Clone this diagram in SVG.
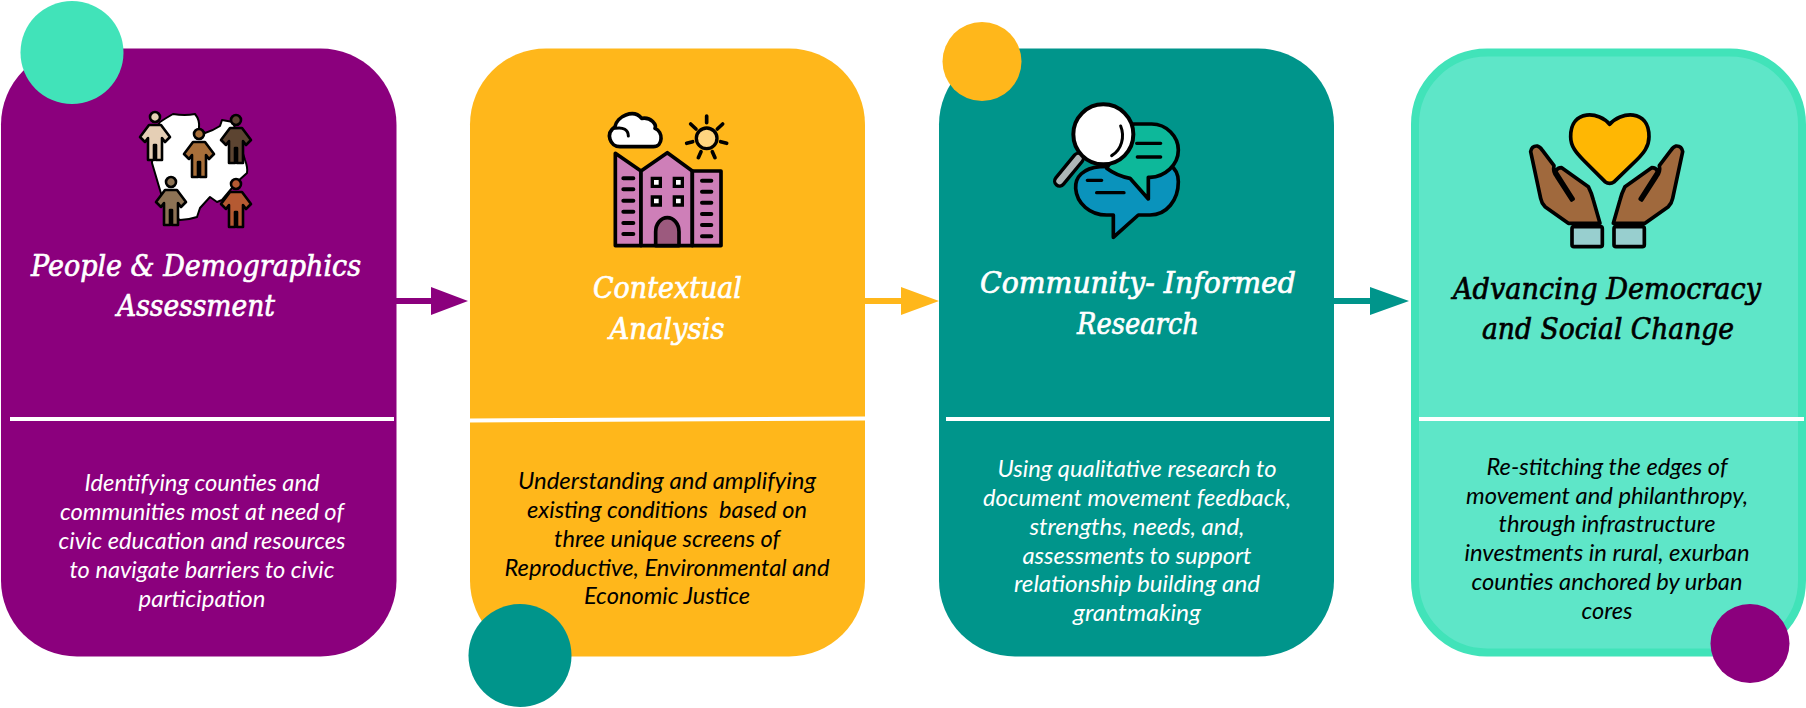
<svg xmlns="http://www.w3.org/2000/svg" width="1806" height="708" viewBox="0 0 1806 708">
<style>
.h{font-family:"DejaVu Serif","Liberation Serif",serif;font-style:italic;font-size:29px;text-anchor:middle;stroke-width:.7px}
.b{font-family:Lato,"Open Sans","Liberation Sans",sans-serif;font-style:italic;font-size:24px;text-anchor:middle;transform:translate(0,1.5px)}
.w{fill:#fff}.k{fill:#000}
.h.w{stroke:#fff}.h.k{stroke:#000}
.div{stroke:#fff;stroke-width:4;fill:none}
.o{stroke:#000;stroke-linejoin:round;stroke-linecap:round}
.l{fill:none;stroke:#000;stroke-linecap:round;stroke-linejoin:round}
</style>
<defs>
<g id="person">
<path class="o" stroke-width="2.6" d="M-6,8H6L15,20L10,25L7,21V43H1V28H-1V43H-7V21L-10,25L-15,20Z"/>
<circle class="o" stroke-width="2.6" r="5"/>
</g>
<g id="hand">
<path class="o" fill="#A0693D" stroke-width="11" d="M392 455Q395 437 412 438Q420 440 428 452L462 497Q458 515 470 530L515 600L470 530Q460 505 485 503L565 560Q575 580 580 600L600 670H505L435 620Q425 610 422 595Z"/>
<path class="l" stroke-width="10" d="M468 515L520 597"/>
</g>
</defs>
<g id="connectors">
<path d="M396 298H431V287L468 301L431 315V304H396Z" fill="#8B007D"/>
<path d="M865 298H901V287L939 301L901 315V304H865Z" fill="#FFB71B"/>
<path d="M1334 298H1370V287L1409 301L1370 315V304H1334Z" fill="#00958B"/>
</g>
<g id="node1">
<rect x="1" y="48.5" width="395.5" height="608" rx="76" fill="#8B007D"/>
<g id="icon1">
<path class="o" fill="#fff" stroke-width="2" d="M160 122Q166 118 173 114Q185 116 195 114Q200 120 199 128L205 133Q214 130 220 126L222 120L233 122L245 160Q248 168 247 173L237 182L222 200L217 202L210 197L200 208L197 217Q188 220 180 220L167 213L160 190L152 163L153 133Z"/>
<use href="#person" x="155" y="117" fill="#E5CFB5"/>
<use href="#person" x="199" y="134" fill="#A86F3A"/>
<use href="#person" x="236" y="120" fill="#5C4431"/>
<use href="#person" x="171" y="182" fill="#8D7355"/>
<use href="#person" x="236" y="184" fill="#B55A32"/>
</g>
<text class="h w" x="196" y="276" textLength="330" lengthAdjust="spacingAndGlyphs">People &amp; Demographics</text>
<text class="h w" x="196" y="316" textLength="158" lengthAdjust="spacingAndGlyphs">Assessment</text>
<path class="div" d="M10 419H394"/>
<text class="b w" x="202" y="489" textLength="235" lengthAdjust="spacingAndGlyphs">Identifying counties and</text>
<text class="b w" x="202" y="518" textLength="284" lengthAdjust="spacingAndGlyphs">communities most at need of</text>
<text class="b w" x="202" y="547" textLength="287" lengthAdjust="spacingAndGlyphs">civic education and resources</text>
<text class="b w" x="202" y="576" textLength="265" lengthAdjust="spacingAndGlyphs">to navigate barriers to civic</text>
<text class="b w" x="202" y="605" textLength="127" lengthAdjust="spacingAndGlyphs">participation</text>
<circle cx="72" cy="52.5" r="51.5" fill="#41E3B9"/>
</g>
<g id="node2">
<rect x="470" y="48.5" width="395" height="608" rx="76" fill="#FFB71B"/>
<g id="icon2" transform="translate(460 0) scale(.33333)">
<path class="o" fill="#CE7FB8" stroke-width="11" d="M466 460L543 513V737H466Z"/>
<path class="o" fill="#CE7FB8" stroke-width="11" d="M543 513L622 458L697 513V737H543Z"/>
<path class="o" fill="#CE7FB8" stroke-width="11" d="M697 513H783V737H697Z"/>
<path class="l" stroke-width="12" d="M490 535H520M490 568H520M490 602H520M490 635H520M490 669H520M490 702H520M726 542H754M726 575H754M726 608H754M726 642H754M726 675H754M726 709H754"/>
<path fill="#000" d="M572 530h34v34h-34zM638 530h34v34h-34zM572 586h34v34h-34zM638 586h34v34h-34z"/>
<path fill="#fff" d="M582 540h14v14h-14zM648 540h14v14h-14zM582 596h14v14h-14zM648 596h14v14h-14z"/>
<path class="o" fill="#9C5A7E" stroke-width="11" d="M587 737V695A35 42 0 0 1 657 695V737Z"/>
<path class="o" fill="#fff" stroke-width="11" d="M480 440C450 440 435 400 465 380C470 350 520 325 545 355C575 350 590 375 585 385C610 395 610 440 580 440Z"/>
<path class="l" stroke-width="9" d="M465 385C490 380 505 390 505 408"/>
<circle class="o" cx="740" cy="415" r="31" fill="#FFD580" stroke-width="10"/>
<path class="l" stroke-width="11" d="M740 348V368M692 372L708 387M788 372L772 387M680 430L698 425M800 430L782 425M715 473L723 455M765 473L757 455"/>
</g>
<text class="h w" x="667.5" y="298" textLength="149" lengthAdjust="spacingAndGlyphs">Contextual</text>
<text class="h w" x="667" y="339" textLength="115" lengthAdjust="spacingAndGlyphs">Analysis</text>
<path class="div" d="M470 420.5L865 418.5"/>
<text class="b k" x="667" y="487" textLength="298" lengthAdjust="spacingAndGlyphs">Understanding and amplifying</text>
<text class="b k" x="667" y="516" textLength="280" lengthAdjust="spacingAndGlyphs" xml:space="preserve">existing conditions  based on</text>
<text class="b k" x="667" y="545" textLength="226" lengthAdjust="spacingAndGlyphs">three unique screens of</text>
<text class="b k" x="667" y="574" textLength="325" lengthAdjust="spacingAndGlyphs">Reproductive, Environmental and</text>
<text class="b k" x="667" y="602" textLength="166" lengthAdjust="spacingAndGlyphs">Economic Justice</text>
<circle cx="520" cy="655.5" r="51.5" fill="#00958B"/>
</g>
<g id="node3">
<rect x="939" y="48.5" width="395" height="608" rx="76" fill="#00958B"/>
<g id="icon3" transform="translate(930 0) scale(.33333)">
<path class="o" fill="#0A93BC" stroke-width="11" d="M510 500C460 505 435 530 437 565C440 610 480 645 530 645H550V712L625 645H660C710 645 745 600 745 545C745 520 735 505 720 495Z"/>
<path class="l" stroke-width="10" d="M472 541H515M500 578H582"/>
<path class="o" fill="#0DB89A" stroke-width="11" d="M610 372H665C710 372 745 410 745 450C745 495 705 530 660 532H655V597L600 535C570 530 550 520 530 505Z"/>
<path class="l" stroke-width="10" d="M620 430H692M622 471H692"/>
<path class="l" stroke-width="40" d="M445 475L389 543"/>
<path fill="none" stroke="#AEB7B7" stroke-width="20" stroke-linecap="round" d="M445 475L389 543"/>
<circle class="o" cx="520" cy="403" r="90" fill="#fff" stroke-width="12"/>
<path class="l" stroke-width="9" d="M572 378C585 410 575 450 545 467"/>
</g>
<text class="h w" x="1138" y="293" textLength="316" lengthAdjust="spacingAndGlyphs">Community- Informed</text>
<text class="h w" x="1138" y="334" textLength="122" lengthAdjust="spacingAndGlyphs">Research</text>
<path class="div" d="M946 419H1330"/>
<text class="b w" x="1137" y="475" textLength="279" lengthAdjust="spacingAndGlyphs">Using qualitative research to</text>
<text class="b w" x="1137" y="504" textLength="308" lengthAdjust="spacingAndGlyphs">document movement feedback,</text>
<text class="b w" x="1137" y="533" textLength="215" lengthAdjust="spacingAndGlyphs">strengths, needs, and,</text>
<text class="b w" x="1137" y="562" textLength="229" lengthAdjust="spacingAndGlyphs">assessments to support</text>
<text class="b w" x="1137" y="590" textLength="246" lengthAdjust="spacingAndGlyphs">relationship building and</text>
<text class="b w" x="1137" y="619" textLength="128" lengthAdjust="spacingAndGlyphs">grantmaking</text>
<circle cx="982" cy="61.5" r="39.5" fill="#FFB71B"/>
</g>
<g id="node4">
<rect x="1415" y="52.5" width="387" height="600" rx="72" fill="#5EE6C8" stroke="#41E3B9" stroke-width="8"/>
<g id="icon4" transform="translate(1400 0) scale(.33333)">
<path class="o" fill="#FFB703" stroke-width="11" d="M629 373C600 335 512 325 512 410C512 440 530 460 550 480L615 545Q629 555 643 545L710 480C730 460 747 440 747 410C747 325 660 335 629 373Z"/>
<use href="#hand"/>
<use href="#hand" transform="translate(1240 0) scale(-1 1)"/>
<rect class="o" x="516" y="680" width="91" height="60" rx="6" fill="#98CFCF" stroke-width="11"/>
<rect class="o" x="642" y="680" width="91" height="60" rx="6" fill="#98CFCF" stroke-width="11"/>
</g>
<text class="h k" x="1607" y="299" textLength="308" lengthAdjust="spacingAndGlyphs">Advancing Democracy</text>
<text class="h k" x="1608" y="339" textLength="252" lengthAdjust="spacingAndGlyphs">and Social Change</text>
<path class="div" d="M1419 419H1804"/>
<text class="b k" x="1607" y="473" textLength="241" lengthAdjust="spacingAndGlyphs">Re-stitching the edges of</text>
<text class="b k" x="1607" y="502" textLength="282" lengthAdjust="spacingAndGlyphs">movement and philanthropy,</text>
<text class="b k" x="1607" y="530" textLength="217" lengthAdjust="spacingAndGlyphs">through infrastructure</text>
<text class="b k" x="1607" y="559" textLength="285" lengthAdjust="spacingAndGlyphs">investments in rural, exurban</text>
<text class="b k" x="1607" y="588" textLength="271" lengthAdjust="spacingAndGlyphs">counties anchored by urban</text>
<text class="b k" x="1607" y="617" textLength="51" lengthAdjust="spacingAndGlyphs">cores</text>
<circle cx="1750" cy="643.5" r="39.5" fill="#8B007D"/>
</g>
</svg>
